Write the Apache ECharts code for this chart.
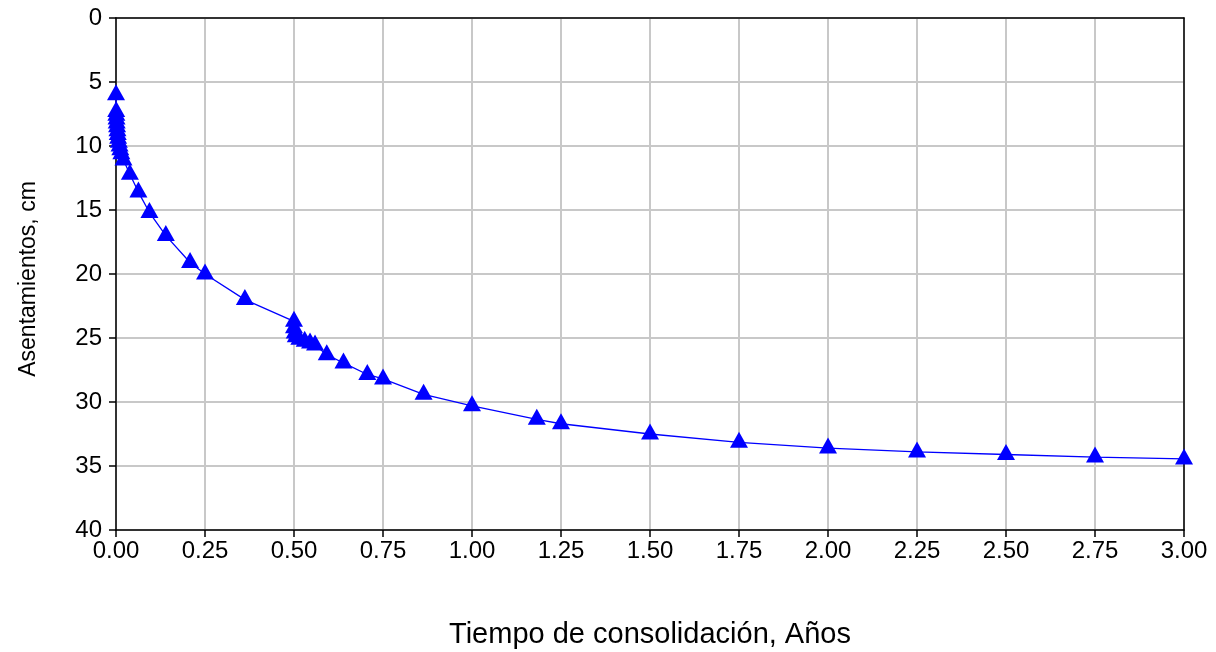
<!DOCTYPE html>
<html>
<head>
<meta charset="utf-8">
<script src="https://cdn.jsdelivr.net/npm/echarts@6/dist/echarts.min.js"></script>
<style>
  html, body { margin: 0; padding: 0; background: #ffffff; }
  #chart { width: 1216px; height: 652px; }
</style>
</head>
<body>
<div id="chart"></div>
<script>
// Consolidation settlement over time
const tiempoAnios = [
  0, 0.0005, 0.001, 0.0015, 0.002, 0.003, 0.004, 0.005, 0.006, 0.008,
  0.010, 0.012, 0.015, 0.021, 0.039, 0.063, 0.094, 0.140, 0.208, 0.250,
  0.362, 0.500, 0.500, 0.502, 0.505, 0.515, 0.530, 0.545, 0.559, 0.592,
  0.639, 0.706, 0.750, 0.864, 1.000, 1.182, 1.250, 1.500, 1.750, 2.000,
  2.250, 2.500, 2.750, 3.000
];
const asentamientoCm = [
  6.0, 7.3, 7.6, 7.9, 8.2, 8.5, 8.8, 9.1, 9.4, 9.7,
  10.0, 10.3, 10.6, 11.1, 12.2, 13.6, 15.2, 17.0, 19.1, 20.0,
  22.0, 23.7, 24.2, 24.6, 24.9, 25.1, 25.25, 25.4, 25.55, 26.3,
  26.95, 27.85, 28.2, 29.4, 30.3, 31.35, 31.7, 32.5, 33.15, 33.6,
  33.9, 34.1, 34.3, 34.45
];

const xTitulo = 'Tiempo de consolidación, Años';
const yTitulo = 'Asentamientos, cm';

const FONT = '"Liberation Sans", Arial, sans-serif';
const puntos = tiempoAnios.map((t, i) => [t, asentamientoCm[i]]);

const chart = echarts.init(document.getElementById('chart'), null, { renderer: 'canvas' });
chart.setOption({
  animation: false,
  backgroundColor: '#ffffff',
  grid: { left: 116, right: 32, top: 18, bottom: 122, containLabel: false, outerBoundsMode: 'none' },
  xAxis: [{
    type: 'value', min: 0, max: 3, interval: 0.25,
    name: xTitulo, nameLocation: 'middle', nameGap: 90,
    nameTextStyle: { fontFamily: FONT, fontSize: 29, color: '#000' },
    axisLine: { show: true, onZero: false, lineStyle: { color: '#000', width: 1.5 } },
    axisTick: { show: true, inside: false, length: 7, lineStyle: { color: '#000', width: 1.5 } },
    axisLabel: { fontFamily: FONT, fontSize: 24, color: '#000', margin: 9,
                 formatter: v => v.toFixed(2) },
    splitLine: { show: true, lineStyle: { color: '#c8c8c8', width: 2 } }
  }, {
    type: 'value', position: 'top', min: 0, max: 3,
    axisLine: { show: true, onZero: false, lineStyle: { color: '#000', width: 1.5 } },
    axisTick: { show: false }, axisLabel: { show: false }, splitLine: { show: false }
  }],
  yAxis: [{
    type: 'value', inverse: true, min: 0, max: 40, interval: 5,
    name: yTitulo, nameLocation: 'middle', nameGap: 76, nameRotate: 90,
    nameTextStyle: { fontFamily: FONT, fontSize: 23, color: '#000', padding: [0, 10, 0, 0] },
    axisLine: { show: true, onZero: false, lineStyle: { color: '#000', width: 1.5 } },
    axisTick: { show: true, inside: false, length: 7, lineStyle: { color: '#000', width: 1.5 } },
    axisLabel: { fontFamily: FONT, fontSize: 24, color: '#000', margin: 14 },
    splitLine: { show: true, lineStyle: { color: '#c8c8c8', width: 2 } }
  }, {
    type: 'value', position: 'right', inverse: true, min: 0, max: 40,
    axisLine: { show: true, onZero: false, lineStyle: { color: '#000', width: 1.5 } },
    axisTick: { show: false }, axisLabel: { show: false }, splitLine: { show: false }
  }],
  series: [{
    type: 'line',
    xAxisIndex: 0, yAxisIndex: 0,
    data: puntos,
    symbol: 'triangle',
    symbolSize: [18, 16],
    symbolOffset: [0, -2.5],
    showAllSymbol: true,
    itemStyle: { color: '#0000ff' },
    lineStyle: { color: '#0000ff', width: 1.3 },
    clip: false
  }]
});
</script>
</body>
</html>
